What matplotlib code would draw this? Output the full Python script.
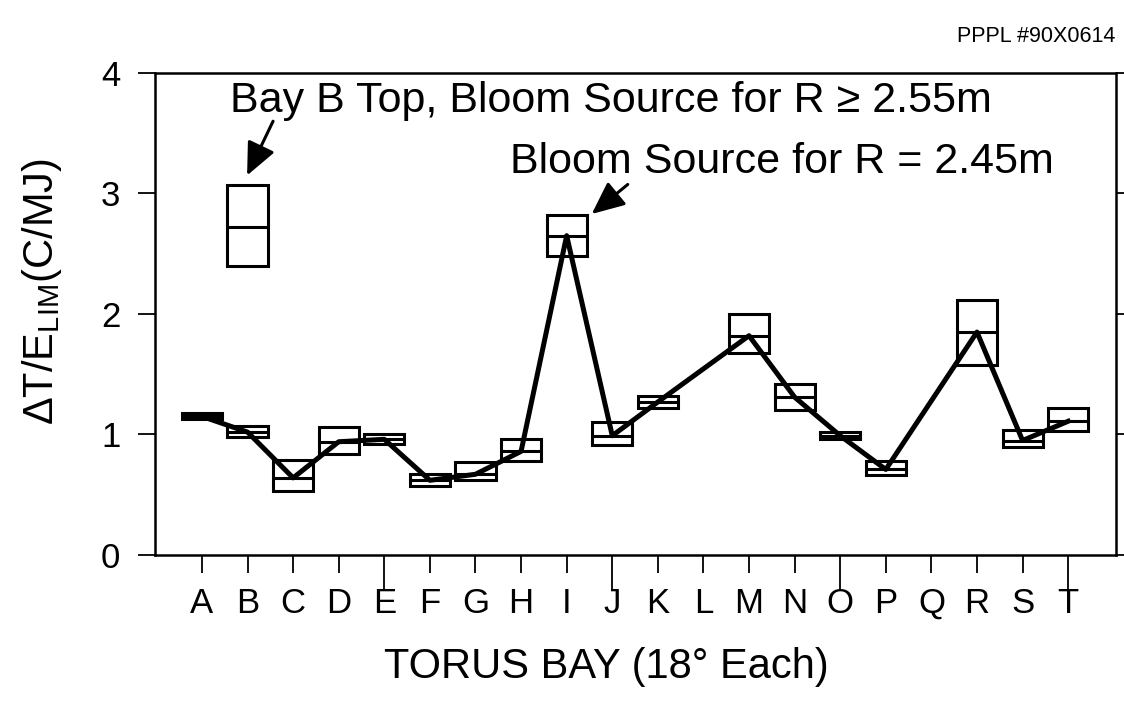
import numpy as np
import matplotlib
matplotlib.use('Agg')
import matplotlib.pyplot as plt

plt.rcParams['font.family'] = ['Liberation Sans', 'DejaVu Sans']
plt.rcParams['mathtext.fontset'] = 'custom'
plt.rcParams['mathtext.rm'] = 'Liberation Sans'
plt.rcParams['mathtext.it'] = 'Liberation Sans'

# Data
bays = list("ABCDEFGHIJKLMNOPQRST")
low = [1.13, 0.98, 0.53, 0.84, 0.92, 0.57, 0.62, 0.78, 2.48, 0.91,
       1.22, np.nan, 1.68, 1.20, 0.96, 0.66, np.nan, 1.58, 0.90, 1.03]
high = [1.18, 1.07, 0.79, 1.06, 1.00, 0.67, 0.77, 0.96, 2.82, 1.10,
        1.32, np.nan, 2.00, 1.42, 1.02, 0.78, np.nan, 2.12, 1.04, 1.22]
mean = [1.15, 1.02, 0.64, 0.94, 0.96, 0.62, 0.67, 0.86, 2.65, 0.99,
        1.27, np.nan, 1.82, 1.31, 0.99, 0.71, np.nan, 1.85, 0.95, 1.11]

# Bay B top measurement (separate, not connected)
btop_low, btop_high, btop_mean = 2.40, 3.07, 2.72

x = np.arange(len(bays))
low = np.array(low)
high = np.array(high)
mean = np.array(mean)
ok = ~np.isnan(mean)

fig = plt.figure(figsize=(11.24, 7.08), dpi=100)
ax = fig.add_axes([0.1379, 0.2161, 0.855, 0.6808])

w = 0.88
# range boxes
ax.bar(x[ok], high[ok] - low[ok], bottom=low[ok], width=w, fill=False,
       edgecolor='black', linewidth=2.2, zorder=2)
ax.hlines(mean[ok], x[ok] - w / 2, x[ok] + w / 2, color='black', lw=2.2, zorder=2)
ax.bar([1], [btop_high - btop_low], bottom=[btop_low], width=w, fill=False,
       edgecolor='black', linewidth=2.2, zorder=2)
ax.hlines([btop_mean], 1 - w / 2, 1 + w / 2, color='black', lw=2.2, zorder=2)

# connecting line through means
ax.plot(x[ok], mean[ok], color='black', lw=3.6, zorder=3)

ax.set_xlim(-1.03, 20.05)
ax.set_ylim(0, 4)
ax.set_xticks(x)
ax.set_xticklabels(bays)
ax.set_yticks([0, 1, 2, 3, 4])
ax.tick_params(axis='x', direction='out', length=13, width=1.3, labelsize=25, pad=10)
ax.tick_params(axis='y', direction='out', length=12, width=1.3, labelsize=25, pad=13,
               right=True)
for i, t in enumerate(ax.xaxis.get_major_ticks()):
    if i % 5 == 4:
        t.tick1line.set_markersize(25)
for t in ax.yaxis.get_major_ticks():
    t.tick2line.set_markersize(6)
for s in ax.spines.values():
    s.set_linewidth(1.8)

ax.set_xlabel('TORUS BAY (18° Each)', fontsize=30)
ax.xaxis.set_label_coords(0.470, -0.19)
ax.set_ylabel(r'$\Delta$T/E$_{\mathrm{LIM}}$(C/MJ)', fontsize=30)
ax.yaxis.set_label_coords(-0.095, 0.546)

ax.text(0.61, 3.68, 'Bay B Top, Bloom Source for R \u2265 2.55m', fontsize=31,
        ha='left', va='baseline')
ax.text(6.75, 3.17, 'Bloom Source for R = 2.45m', fontsize=31,
        ha='left', va='baseline')

arrow = dict(arrowstyle='-|>,head_width=0.45,head_length=1.0', mutation_scale=20,
             color='black', lw=2.2, shrinkA=0, shrinkB=0)
ax.annotate('', xy=(0.99, 3.15), xytext=(1.56, 3.6), arrowprops=arrow)
ax.annotate('', xy=(8.55, 2.83), xytext=(9.34, 3.075), arrowprops=arrow)

fig.text(0.9925, 0.949, 'PPPL #90X0614', fontsize=15.5, ha='right', va='center')

fig.savefig('out.png', dpi=100)
